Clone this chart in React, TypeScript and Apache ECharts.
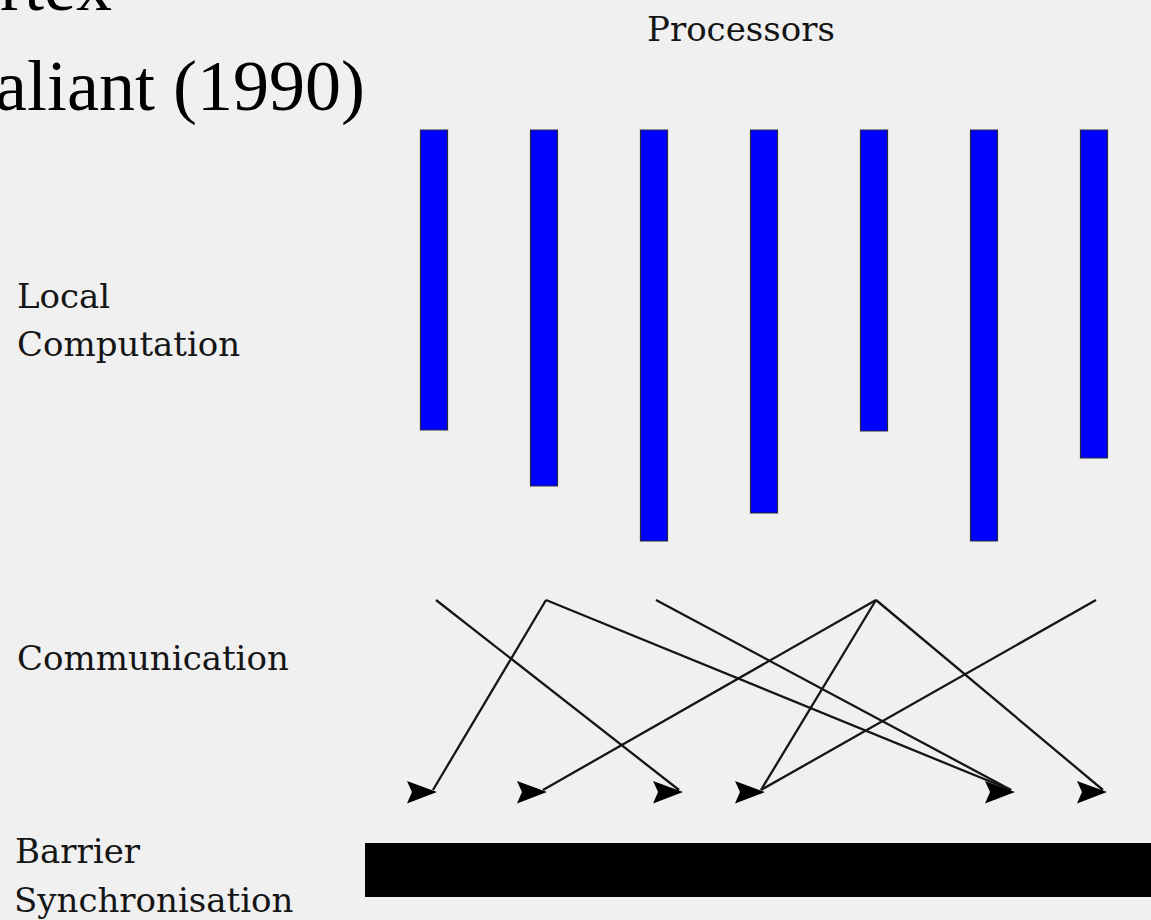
import React, { useEffect, useRef } from "react";
import * as echarts from "echarts";

// ---- data (diagram of the BSP superstep) ----
const processors = ["P1", "P2", "P3", "P4", "P5", "P6", "P7"];
const computeStart = 130; // time at which local computation begins
const computeEnd = [430, 486, 541, 513, 431, 541, 458]; // per processor
const commStart = 600;
const commEnd = 791;
// arrow-head tip positions, in processor units
const arrowTips = [0.027, 1.027, 2.264, 3.009, 5.282, 6.118];
// messages: [source processor, destination arrow]
const messages = [
  [0, 2],
  [1, 0],
  [1, 4],
  [2, 4],
  [4, 1],
  [4, 3],
  [4, 5],
  [6, 3],
];
const barrierFrom = -0.627;
const barrierTo = 7;
const barrierTop = 843;
const barrierBottom = 897;

const xMin = -434 / 110;
const xMax = (1151 - 434) / 110;

export default function App() {
  const ref = useRef<HTMLDivElement>(null);
  useEffect(() => {
    if (!ref.current) return;
    const chart = echarts.init(ref.current, null, { renderer: "svg" });
    const labelFont = "DejaVu Serif";
    const labelSize = 34;
    const lab = (text: string, x: number, y: number) => ({
      type: "text",
      left: x,
      top: y,
      style: {
        text,
        font: `${labelSize}px "${labelFont}"`,
        fill: "#151515",
      },
    });
    chart.setOption({
      animation: false,
      backgroundColor: "#f0f0f0",
      grid: { left: 0, right: 0, top: 0, bottom: 0 },
      xAxis: { type: "value", min: xMin, max: xMax, show: false },
      yAxis: { type: "value", min: 0, max: 920, inverse: true, show: false },
      graphic: [
        {
          type: "text",
          left: 0,
          top: -50,
          style: { text: "rtex", font: '72px "Liberation Serif"', fill: "#000" },
        },
        {
          type: "text",
          left: -5,
          top: 50,
          style: { text: "aliant (1990)", font: '72px "Liberation Serif"', fill: "#000" },
        },
        lab("Processors", 647, 12),
        lab("Local", 17, 279),
        lab("Computation", 17, 327),
        lab("Communication", 17, 641),
        lab("Barrier", 15, 834),
        lab("Synchronisation", 14, 883),
      ],
      series: [
        {
          type: "custom",
          name: "computation",
          data: computeEnd.map((e, i) => [i, computeStart, e]),
          renderItem: (params: any, api: any) => {
            const i = api.value(0);
            const p0 = api.coord([i, api.value(1)]);
            const p1 = api.coord([i, api.value(2)]);
            const w = 27;
            return {
              type: "rect",
              shape: { x: p0[0] - w / 2, y: p0[1], width: w, height: p1[1] - p0[1] },
              style: { fill: "#0000ff", stroke: "#2a2a3a", lineWidth: 1.2 },
            };
          },
        },
        {
          type: "custom",
          name: "messages",
          data: messages.map(([s, d]) => [s, arrowTips[d]]),
          renderItem: (params: any, api: any) => {
            const a = api.coord([api.value(0), commStart]);
            const b = api.coord([api.value(1), commEnd]);
            return {
              type: "line",
              shape: { x1: a[0] + 2, y1: a[1], x2: b[0] - 4, y2: b[1] - 1 },
              style: { stroke: "#151515", lineWidth: 2.3 },
            };
          },
        },
        {
          type: "custom",
          name: "arrows",
          data: arrowTips.map((t) => [t, commEnd]),
          renderItem: (params: any, api: any) => {
            const p = api.coord([api.value(0), api.value(1)]);
            const x = p[0];
            const y = p[1] + 1;
            return {
              type: "polygon",
              shape: {
                points: [
                  [x, y],
                  [x - 30, y - 11],
                  [x - 25, y],
                  [x - 30, y + 11.5],
                ],
              },
              style: { fill: "#000" },
            };
          },
        },
        {
          type: "custom",
          name: "barrier",
          data: [[barrierFrom, barrierTo, barrierTop, barrierBottom]],
          renderItem: (params: any, api: any) => {
            const a = api.coord([api.value(0), api.value(2)]);
            const b = api.coord([api.value(1), api.value(3)]);
            return {
              type: "rect",
              shape: { x: a[0], y: a[1], width: b[0] - a[0], height: b[1] - a[1] },
              style: { fill: "#000" },
            };
          },
        },
      ],
    });
    return () => chart.dispose();
  }, []);
  return (
    <div
      ref={ref}
      style={{ position: "fixed", left: 0, top: 0, width: 1151, height: 920 }}
    />
  );
}
